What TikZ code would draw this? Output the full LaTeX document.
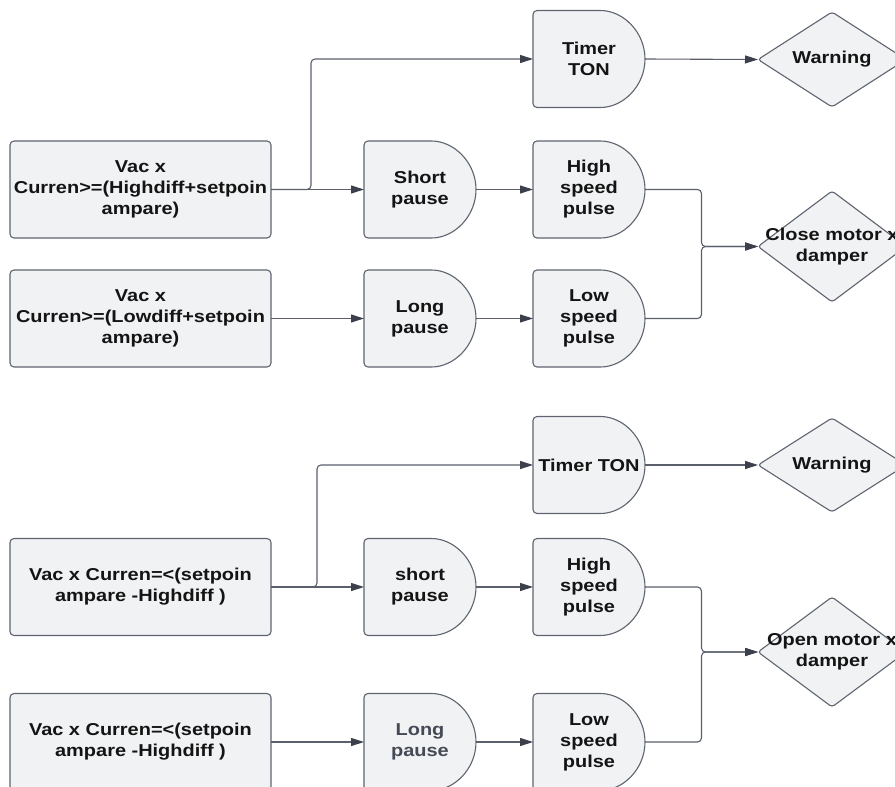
\documentclass[tikz,border=0pt]{standalone}
\usepackage{fontspec}
\setmainfont{Liberation Sans}[FakeStretch=1.16]
\usetikzlibrary{shapes.geometric,arrows.meta,backgrounds,calc}

\definecolor{shapefill}{HTML}{F1F2F4}
\definecolor{shapeline}{HTML}{5F6470}
\definecolor{wirecol}{HTML}{5A5F6B}
\definecolor{tipcol}{HTML}{3B404C}
\definecolor{ink}{HTML}{141414}
\definecolor{softink}{HTML}{454A56}

\begin{document}
\begin{tikzpicture}[x=1pt,y=-1pt,
  lbl/.style={font=\fontsize{17.2}{21}\selectfont\bfseries, text=ink, align=center},
  condbox/.style={lbl, draw=shapeline, fill=shapefill, line width=1.1pt,
    rounded corners=4pt, minimum width=261pt, minimum height=97pt,
    inner sep=0pt, outer sep=0pt},
  gatebox/.style={lbl, minimum width=112pt, minimum height=97pt,
    inner sep=0pt, outer sep=0pt},
  gateline/.style={draw=shapeline, fill=shapefill, line width=1.1pt, rounded corners=4pt},
  decision/.style={diamond, draw=shapeline, fill=shapefill, line width=1.1pt,
    rounded corners=3pt, minimum width=148pt, inner sep=0pt, outer sep=0pt},
  wire/.style={draw=wirecol, line width=1.1pt, rounded corners=4pt,
    -{Triangle[length=13pt,width=8pt,color=tipcol]}}
]
\useasboundingbox (0,0) rectangle (895,787);

% ---------- closing branch ----------
\node[condbox] (c1) at (140.5,189.5) {Vac x\\Curren>=(Highdiff+setpoin\\ampare)};
\node[condbox] (c2) at (140.5,318.5) {Vac x\\Curren>=(Lowdiff+setpoin\\ampare)};

\node[gatebox] (sp1) at (420,189.5) {Short\\pause};
\node[gatebox] (lp1) at (420,318.5) {Long\\pause};
\node[gatebox] (tm1) at (589,59) {Timer\\TON};
\node[gatebox] (hs1) at (589,189.5) {High\\speed\\pulse};
\node[gatebox] (ls1) at (589,318.5) {Low\\speed\\pulse};

\node[decision, minimum height=95pt, label={[lbl]center:Warning}] (wn1) at (832,59.5) {};
\node[decision, minimum height=111pt, label={[lbl]center:Close motor x\\damper}] (cl) at (832,246.5) {};

% ---------- opening branch ----------
\node[condbox] (c3) at (140.5,587) {Vac x Curren=<(setpoin\\ampare -Highdiff )};
\node[condbox] (c4) at (140.5,742) {Vac x Curren=<(setpoin\\ampare -Highdiff )};

\node[gatebox] (sp2) at (420,587) {short\\pause};
\node[gatebox, text=softink] (lp2) at (420,742) {Long\\pause};
\node[gatebox] (tm2) at (589,465) {Timer TON};
\node[gatebox] (hs2) at (589,587) {High\\speed\\pulse};
\node[gatebox] (ls2) at (589,742) {Low\\speed\\pulse};

\node[decision, minimum height=94pt, label={[lbl]center:Warning}] (wn2) at (832,465) {};
\node[decision, minimum height=110pt, label={[lbl]center:Open motor x\\damper}] (op) at (832,652) {};

% D-shaped outlines behind the gate labels
\begin{scope}[on background layer]
  \foreach \g in {sp1,lp1,tm1,hs1,ls1,sp2,lp2,tm2,hs2,ls2}
    \draw[gateline] (\g.south west) -- (\g.north west)
      -- ($(\g.north east)+(-48.5,0)$)
      arc[start angle=90, end angle=-90, radius=48.5pt] -- cycle;
\end{scope}

% ---------- connectors ----------
\draw[wire] (c1.east) -- (sp1.west);
\draw[wire] (c1.east) -- ++(40,0) |- (tm1.west);
\draw[wire] (c2.east) -- (lp1.west);
\draw[wire] (sp1.east) -- (hs1.west);
\draw[wire] (lp1.east) -- (ls1.west);
\draw[wire] (tm1.east) -- (wn1.west);
\draw[wire] (hs1.east) -- ++(56.5,0) |- (cl.west);
\draw[wire] (ls1.east) -- ++(56.5,0) |- (cl.west);

\draw[wire] (c3.east) -- (sp2.west);
\draw[wire] (c3.east) -- ++(46,0) |- (tm2.west);
\draw[wire] (c4.east) -- (lp2.west);
\draw[wire] (sp2.east) -- (hs2.west);
\draw[wire] (lp2.east) -- (ls2.west);
\draw[wire] (tm2.east) -- (wn2.west);
\draw[wire] (hs2.east) -- ++(56.5,0) |- (op.west);
\draw[wire] (ls2.east) -- ++(56.5,0) |- (op.west);
\end{tikzpicture}
\end{document}
